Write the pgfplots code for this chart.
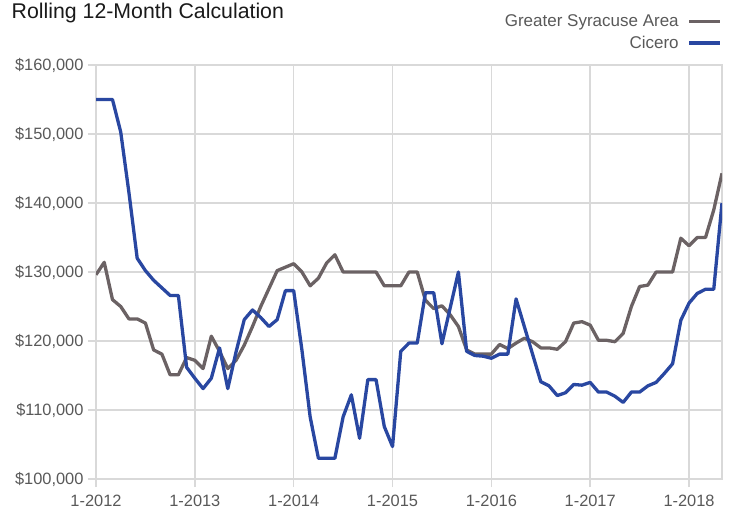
\documentclass[border=0pt]{standalone}
\usepackage{pgfplots}
\pgfplotsset{compat=1.18}
\usepackage{fontspec}
\setmainfont{Liberation Sans}
\definecolor{syrgray}{HTML}{6B6264}
\definecolor{cicblue}{HTML}{2947A1}
\definecolor{gridgray}{HTML}{D9D9D9}
\definecolor{labelgray}{HTML}{595959}
\definecolor{titleblack}{HTML}{1A1A1A}
\begin{document}
\begin{tikzpicture}
\path[use as bounding box] (0bp,0bp) rectangle (732bp,-515bp);
\node[anchor=base west, inner sep=0pt, text=titleblack, font=\fontsize{21.3bp}{25bp}\selectfont] at (11.5bp,-18.5bp) {Rolling 12-Month Calculation};
\begin{axis}[
  at={(96bp,-479bp)}, anchor=south west,
  scale only axis, width=626bp, height=414bp,
  xmin=0, xmax=76, ymin=100000, ymax=160000,
  xtick={0,12,24,36,48,60,72},
  xticklabels={1-2012,1-2013,1-2014,1-2015,1-2016,1-2017,1-2018},
  ytick={100000,110000,120000,130000,140000,150000,160000},
  yticklabels={{\$100,000},{\$110,000},{\$120,000},{\$130,000},{\$140,000},{\$150,000},{\$160,000}},
  scaled y ticks=false,
  grid=major,
  major grid style={draw=gridgray, line width=1.6bp},
  axis line style={draw=gridgray, line width=1.6bp},
  tick style={draw=gridgray, line width=1.6bp},
  tick align=outside, major tick length=8bp,
  xtick pos=bottom, ytick pos=left,
  ticklabel style={font=\fontsize{16.4bp}{19bp}\selectfont, text=labelgray},
  xticklabel style={yshift=-5bp},
  yticklabel style={xshift=-1bp},
  legend cell align=right, legend plot pos=right,
  legend image code/.code={\draw[#1] (0bp,0bp) -- (31bp,0bp);},
  legend style={at={(rel axis cs:1,1)}, anchor=south east, draw=none, fill=none,
    inner sep=0pt, outer sep=0pt, row sep=8bp, column sep=9bp,
    font=\fontsize{17bp}{20bp}\selectfont, text=labelgray,
    nodes={inner sep=0pt}, yshift=15bp},
]
\addplot[color=syrgray, line width=3.3bp, line join=round] coordinates {
(0,129600) (1,131400) (2,126000) (3,125000) (4,123200) (5,123200) (6,122600) (7,118700)
(8,118100) (9,115100) (10,115100) (11,117600) (12,117200) (13,116000) (14,120700) (15,118500)
(16,116000) (17,117200) (18,119400) (19,122100) (20,125000) (21,127600) (22,130200) (23,130700)
(24,131200) (25,130000) (26,128000) (27,129100) (28,131300) (29,132500) (30,130000) (31,130000)
(32,130000) (33,130000) (34,130000) (35,128000) (36,128000) (37,128000) (38,130000) (39,130000)
(40,125900) (41,124700) (42,125100) (43,123800) (44,122100) (45,118700) (46,118100) (47,118100)
(48,118100) (49,119500) (50,118900) (51,119700) (52,120400) (53,119900) (54,119000) (55,119000)
(56,118800) (57,119900) (58,122600) (59,122800) (60,122300) (61,120100) (62,120100) (63,119900)
(64,121100) (65,125000) (66,127900) (67,128100) (68,130000) (69,130000) (70,130000) (71,134900)
(72,133800) (73,135000) (74,135000) (75,139000) (76,144300)
};
\addlegendentry{Greater Syracuse Area}
\addplot[color=cicblue, line width=3.3bp, line join=round] coordinates {
(0,155000) (1,155000) (2,155000) (3,150300) (4,141500) (5,132000) (6,130200) (7,128800)
(8,127700) (9,126600) (10,126600) (11,116200) (12,114600) (13,113100) (14,114600) (15,119000)
(16,113100) (17,118400) (18,123100) (19,124500) (20,123400) (21,122100) (22,123100) (23,127300)
(24,127300) (25,118700) (26,109000) (27,103000) (28,103000) (29,103000) (30,109000) (31,112200)
(32,105900) (33,114400) (34,114400) (35,107600) (36,104700) (37,118500) (38,119700) (39,119700)
(40,127000) (41,127000) (42,119600) (43,124800) (44,130000) (45,118500) (46,117900) (47,117800)
(48,117500) (49,118100) (50,118100) (51,126100) (52,122100) (53,118100) (54,114100) (55,113500)
(56,112100) (57,112500) (58,113700) (59,113600) (60,114000) (61,112600) (62,112600) (63,112000)
(64,111100) (65,112600) (66,112600) (67,113500) (68,114000) (69,115300) (70,116700) (71,123000)
(72,125500) (73,126900) (74,127500) (75,127500) (76,140000)
};
\addlegendentry{Cicero}
\end{axis}
\end{tikzpicture}
\end{document}
